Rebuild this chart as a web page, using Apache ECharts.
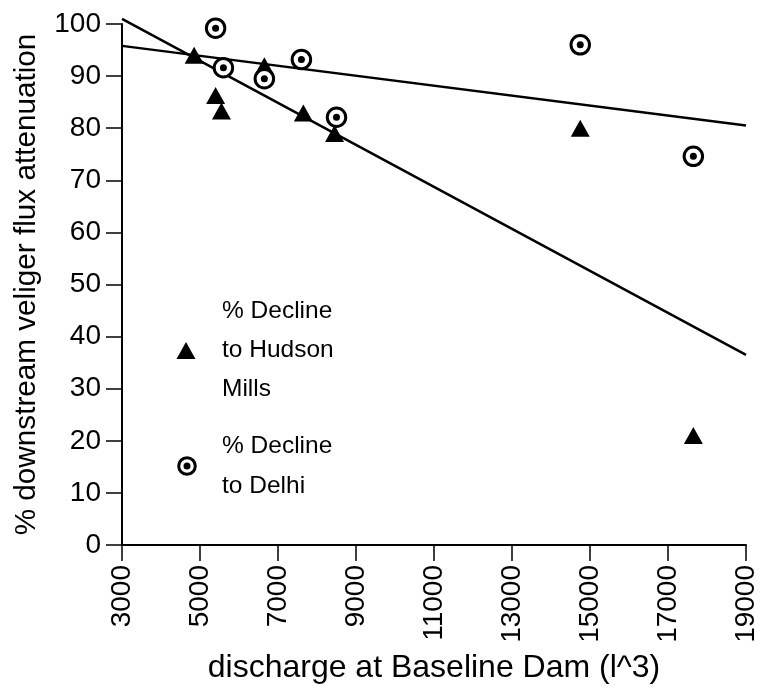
<!DOCTYPE html>
<html>
<head>
<meta charset="utf-8">
<script src="https://cdn.jsdelivr.net/npm/echarts@6/dist/echarts.min.js"></script>
<style>
html,body{margin:0;padding:0;background:#fff;}
#chart{width:768px;height:696px;}
</style>
</head>
<body>
<div id="chart"></div>
<script>
// Data
var xTicks = [3000, 5000, 7000, 9000, 11000, 13000, 15000, 17000, 19000];
var yTicks = [0, 10, 20, 30, 40, 50, 60, 70, 80, 90, 100];
var hudsonX = [4850, 5400, 5550, 6650, 7650, 8450, 14750, 17650];
var hudsonY = [94, 86.3, 83.3, 92, 82.9, 79, 80, 21];
var delhiX = [5400, 5600, 6650, 7600, 8500, 14750, 17650];
var delhiY = [99.2, 91.6, 89.5, 93.2, 82.1, 96, 74.6];
var steepLineX = [3000, 19000];
var steepLineY = [101, 36.5];
var flatLineX = [3000, 19000];
var flatLineY = [95.8, 80.5];

var legendHudson = '% Decline\nto Hudson\nMills';
var legendDelhi = '% Decline\nto Delhi';
var xTitle = 'discharge at Baseline Dam (l^3)';
var yTitle = '% downstream veliger flux attenuation';

function zip(a, b) { return a.map(function (v, i) { return [v, b[i]]; }); }

var FONT = "'Liberation Sans', Arial, Helvetica, sans-serif";
var chart = echarts.init(document.getElementById('chart'), null, {renderer: 'canvas'});
chart.setOption({
  backgroundColor: '#ffffff',
  animation: false,
  grid: {left: 122, right: 22, top: 24, bottom: 151},
  xAxis: {
    type: 'value',
    min: xTicks[0], max: xTicks[xTicks.length - 1], interval: 2000,
    splitLine: {show: false},
    axisLine: {onZero: false, lineStyle: {color: '#000', width: 2}},
    axisTick: {length: 16, lineStyle: {color: '#000', width: 1.5}},
    axisLabel: {rotate: 90, margin: 20, color: '#000', fontFamily: FONT, fontSize: 28,
      formatter: function (v) { return String(v); }},
    name: xTitle, nameLocation: 'middle', nameGap: 107,
    nameTextStyle: {color: '#000', fontFamily: FONT, fontSize: 32, verticalAlign: 'top'}
  },
  yAxis: {
    type: 'value',
    min: yTicks[0], max: yTicks[yTicks.length - 1], interval: 10,
    splitLine: {show: false},
    axisLine: {onZero: false, lineStyle: {color: '#000', width: 2}},
    axisTick: {length: 16, lineStyle: {color: '#000', width: 1.5}},
    axisLabel: {margin: 21, color: '#000', fontFamily: FONT, fontSize: 28,
      formatter: function (v) { return String(v); }},
    name: yTitle, nameLocation: 'middle', nameGap: 80,
    nameTextStyle: {color: '#000', fontFamily: FONT, fontSize: 29.7}
  },
  series: [
    {
      type: 'line', name: 'fit Hudson', data: zip(steepLineX, steepLineY),
      showSymbol: false, clip: false, z: 1,
      lineStyle: {color: '#000', width: 2.5}
    },
    {
      type: 'line', name: 'fit Delhi', data: zip(flatLineX, flatLineY),
      showSymbol: false, clip: false, z: 1,
      lineStyle: {color: '#000', width: 2.5}
    },
    {
      type: 'scatter', name: legendHudson, data: zip(hudsonX, hudsonY),
      symbol: 'triangle', symbolSize: [19, 17], z: 3,
      itemStyle: {color: '#000', opacity: 1}
    },
    {
      type: 'scatter', name: legendDelhi, data: zip(delhiX, delhiY),
      symbol: 'circle', symbolSize: 18.5, z: 4,
      itemStyle: {color: '#fff', borderColor: '#000', borderWidth: 3, opacity: 1}
    },
    {
      type: 'scatter', name: 'Delhi centre', data: zip(delhiX, delhiY),
      symbol: 'circle', symbolSize: 7, z: 5,
      itemStyle: {color: '#000', opacity: 1}
    }
  ],
  graphic: [
    {type: 'polygon', shape: {points: [[186, 342], [195.5, 359], [176.5, 359]]}, style: {fill: '#000'}},
    {type: 'text', left: 222, top: 292, style: {text: legendHudson, font: '24.5px ' + FONT, fill: '#000', lineHeight: 39}},
    {type: 'circle', shape: {cx: 187, cy: 466, r: 8.3}, style: {fill: '#fff', stroke: '#000', lineWidth: 3}},
    {type: 'circle', shape: {cx: 187, cy: 466, r: 3.5}, style: {fill: '#000'}},
    {type: 'text', left: 222, top: 426, style: {text: legendDelhi, font: '24.5px ' + FONT, fill: '#000', lineHeight: 40}}
  ]
});
</script>
</body>
</html>
